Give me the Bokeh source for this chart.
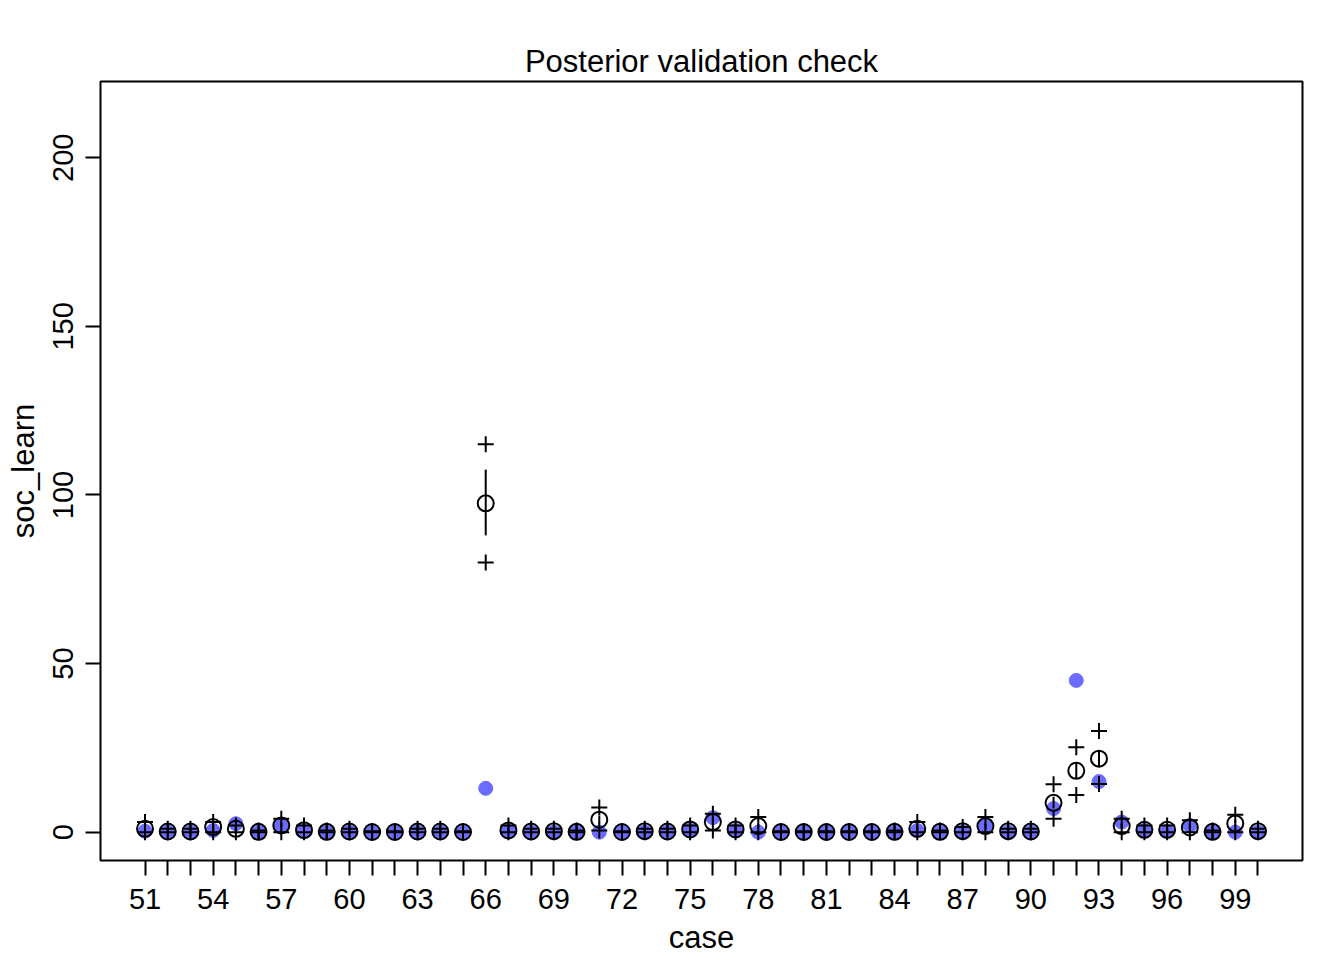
from bokeh.plotting import figure
from bokeh.models import ColumnDataSource, FixedTicker, Range1d
from bokeh.embed import file_html
from bokeh.resources import INLINE

# ---- data ----
cases = list(range(51, 101))
observed = [0.3, 0, 0, 0.5, 2.5, 0, 2, 0.5, 0, 0,
            0, 0, 0, 0, 0, 13, 0.3, 0, 0, 0,
            0, 0, 0, 0, 0.7, 4.3, 0.5, 0, 0, 0,
            0, 0, 0, 0, 0.5, 0, 0, 2, 0, 0,
            7, 45, 15, 3, 0.5, 0.3, 2, 0, 0, 0]
mu_mean = [1.0, 0.2, 0.2, 1.5, 1.0, 0.1, 2.0, 0.6, 0.1, 0.2,
           0.05, 0.05, 0.2, 0.2, 0.05, 97.5, 0.5, 0.2, 0.3, 0.1,
           3.7, 0.05, 0.3, 0.2, 0.8, 3.0, 0.8, 1.8, 0.05, 0.05,
           0.05, 0.05, 0.05, 0.1, 1.0, 0.1, 0.3, 1.8, 0.3, 0.2,
           8.7, 18.2, 21.8, 1.8, 0.7, 0.7, 1.4, 0.1, 2.6, 0.3]
mu_lo = [0.6, 0.1, 0.1, 1.0, 0.6, 0.0, 1.4, 0.3, 0.0, 0.1,
         0.0, 0.0, 0.1, 0.1, 0.0, 88.0, 0.2, 0.1, 0.1, 0.0,
         2.6, 0.0, 0.1, 0.1, 0.4, 2.0, 0.4, 1.2, 0.0, 0.0,
         0.0, 0.0, 0.0, 0.0, 0.6, 0.0, 0.1, 1.2, 0.1, 0.1,
         7.0, 16.0, 19.5, 1.2, 0.4, 0.4, 0.9, 0.0, 1.8, 0.1]
mu_hi = [1.5, 0.4, 0.4, 2.0, 1.5, 0.3, 2.7, 1.0, 0.3, 0.4,
         0.2, 0.2, 0.4, 0.4, 0.2, 107.5, 0.9, 0.4, 0.6, 0.3,
         4.9, 0.2, 0.6, 0.4, 1.3, 4.1, 1.3, 2.5, 0.2, 0.2,
         0.2, 0.2, 0.2, 0.3, 1.5, 0.3, 0.6, 2.5, 0.6, 0.4,
         10.5, 20.5, 24.2, 2.5, 1.1, 1.1, 2.0, 0.3, 3.5, 0.6]
pred_lo = [0, 0, 0, 0, 0, 0, 0, 0, 0, 0,
           0, 0, 0, 0, 0, 80, 0, 0, 0, 0,
           0.5, 0, 0, 0, 0, 0.5, 0, 0, 0, 0,
           0, 0, 0, 0, 0, 0, 0, 0, 0, 0,
           4, 11, 14.3, 0, 0, 0, 0, 0, 0, 0]
pred_hi = [3, 1, 1, 3, 2, 0.5, 4, 2, 0.5, 1,
           0.3, 0.3, 1, 1, 0.3, 115, 2, 1, 1, 0.5,
           7.3, 0.3, 1, 1, 2, 5.5, 2, 4.5, 0.3, 0.3,
           0.3, 0.3, 0.3, 0.5, 3, 0.5, 1.5, 4.5, 1, 1,
           14.2, 25.2, 30, 4, 2, 2, 3.5, 0.5, 5.2, 1]
x_labels = [str(c) for c in range(51, 101, 3)]
y_ticks = [0, 50, 100, 150, 200]

src = ColumnDataSource(dict(case=cases, obs=observed, mu=mu_mean, lo=mu_lo,
                            hi=mu_hi, plo=pred_lo, phi=pred_hi))

FONT = "Liberation Sans"
p = figure(output_backend="svg", toolbar_location=None,
           frame_width=1202, frame_height=779,
           min_border_left=100, min_border_right=42,
           min_border_top=81, min_border_bottom=100,
           x_range=Range1d(49.04, 101.96), y_range=Range1d(-8.4, 222.6),
           title="Posterior validation check")
p.background_fill_color = "white"
p.border_fill_color = "white"
p.grid.visible = False
p.outline_line_color = "black"
p.outline_line_width = 2

p.title.align = "center"
p.title.text_font = FONT
p.title.text_font_size = "31px"
p.title.text_font_style = "normal"
p.title.text_color = "black"
p.title.standoff = 5

for ax in (p.xaxis[0], p.yaxis[0]):
    ax.axis_line_color = None
    ax.major_tick_line_color = "black"
    ax.major_tick_line_width = 2
    ax.major_tick_out = 15
    ax.major_tick_in = 0
    ax.minor_tick_line_color = None
    ax.major_label_text_font = FONT
    ax.major_label_text_font_size = "29px"
    ax.major_label_text_color = "black"
    ax.axis_label_text_font = FONT
    ax.axis_label_text_font_size = "31px"
    ax.axis_label_text_font_style = "normal"
    ax.axis_label_text_color = "black"

p.xaxis.ticker = FixedTicker(ticks=cases)
p.xaxis.major_label_overrides = {c: (str(c) if str(c) in x_labels else "") for c in cases}
p.xaxis.axis_label = "case"
p.xaxis.major_label_standoff = 13
p.xaxis.axis_label_standoff = 8

p.yaxis.ticker = FixedTicker(ticks=y_ticks)
p.yaxis.major_label_orientation = "vertical"
p.yaxis.axis_label = "soc_learn"
p.yaxis.major_label_standoff = 12
p.yaxis.axis_label_standoff = 10

p.scatter("case", "obs", source=src, marker="circle", size=14,
          fill_color="#6B6BFF", line_color="#6B6BFF")
p.segment("case", "lo", "case", "hi", source=src, line_color="black", line_width=2)
p.scatter("case", "mu", source=src, marker="circle", size=16,
          fill_color=None, line_color="black", line_width=2)
p.scatter("case", "plo", source=src, marker="cross", size=16,
          line_color="black", line_width=2)
p.scatter("case", "phi", source=src, marker="cross", size=16,
          line_color="black", line_width=2)

open("out.html", "w").write(file_html(p, INLINE))
